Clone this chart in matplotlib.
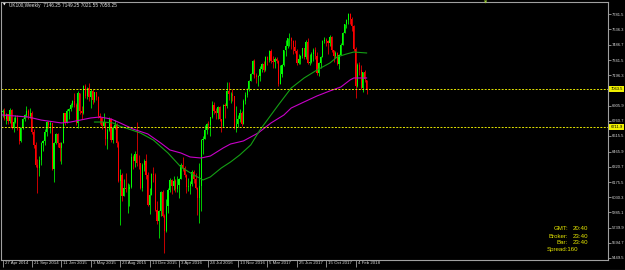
import matplotlib
matplotlib.use("Agg")
import matplotlib.pyplot as plt
import matplotlib.transforms as mtransforms
import numpy as np

plt.rcParams["font.family"] = ["Liberation Sans", "DejaVu Sans"]

# UK100 weekly bars, first bar = week of 1 Jun 2014, last = week of 18 Mar 2018
opens = [6845, 6858, 6777, 6825, 6757, 6866, 6690, 6749, 6791, 6679,
         6567, 6689, 6776, 6820, 6855, 6806, 6837, 6649, 6527, 6340,
         6310, 6388, 6546, 6567, 6654, 6750, 6723, 6742, 6300, 6545,
         6633, 6547, 6501, 6550, 6832, 6749, 6853, 6873, 6915, 6946,
         6912, 6740, 7022, 6855, 6833, 7090, 6995, 7070, 6986, 7047,
         6960, 7032, 6984, 6804, 6784, 6710, 6753, 6585, 6673, 6775,
         6579, 6696, 6718, 6550, 6188, 6247, 6042, 6117, 6105, 6109,
         6129, 6416, 6378, 6444, 6361, 6353, 6118, 6334, 6375, 6238,
         5952, 6052, 6254, 6242, 5912, 5804, 5900, 6083, 5848, 5707,
         5950, 6097, 6199, 6139, 6189, 6106, 6146, 6204, 6343, 6310,
         6241, 6125, 6138, 6156, 6270, 6209, 6115, 6021, 6138, 6577,
         6590, 6669, 6730, 6724, 6793, 6916, 6859, 6838, 6894, 6777,
         6710, 6910, 6899, 7044, 7014, 7020, 6996, 6693, 6730, 6775,
         6840, 6731, 6954, 7011, 7068, 7142, 7210, 7337, 7198, 7184,
         7188, 7258, 7299, 7243, 7374, 7343, 7425, 7336, 7323, 7349,
         7328, 7115, 7204, 7297, 7435, 7471, 7548, 7548, 7527, 7464,
         7424, 7313, 7350, 7378, 7453, 7368, 7511, 7310, 7324, 7401,
         7439, 7378, 7215, 7311, 7373, 7522, 7535, 7523, 7505, 7560,
         7433, 7380, 7409, 7300, 7394, 7490, 7603, 7687, 7724, 7778,
         7730, 7666, 7443, 7092, 7294, 7244, 7070, 7224, 7146]
highs = [6875, 6880, 6840, 6830, 6880, 6870, 6800, 6820, 6820, 6700,
         6700, 6790, 6830, 6904, 6870, 6880, 6850, 6680, 6560, 6400,
         6420, 6560, 6580, 6680, 6760, 6760, 6760, 6740, 6560, 6640,
         6640, 6560, 6560, 6840, 6840, 6870, 6880, 6930, 6960, 7030,
         6930, 7050, 7030, 6900, 7100, 7110, 7080, 7122, 7060, 7060,
         7040, 7040, 7000, 6840, 6800, 6840, 6740, 6690, 6800, 6790,
         6710, 6770, 6740, 6570, 6300, 6260, 6200, 6260, 6170, 6160,
         6450, 6430, 6470, 6750, 6430, 6350, 6360, 6400, 6440, 6270,
         6120, 6260, 6320, 6260, 5990, 5910, 6090, 6100, 5870, 6010,
         6120, 6210, 6200, 6230, 6200, 6230, 6210, 6360, 6410, 6330,
         6250, 6210, 6190, 6290, 6290, 6260, 6130, 6360, 6590, 6620,
         6720, 6740, 6760, 6800, 6950, 6940, 6880, 6900, 6900, 6780,
         6920, 6930, 7130, 7130, 7040, 7060, 7000, 6900, 6820, 6870,
         6850, 6970, 7040, 7070, 7150, 7220, 7340, 7350, 7220, 7200,
         7280, 7310, 7330, 7380, 7380, 7440, 7450, 7380, 7370, 7370,
         7340, 7290, 7300, 7440, 7530, 7550, 7600, 7560, 7530, 7530,
         7450, 7400, 7390, 7460, 7460, 7530, 7550, 7400, 7420, 7460,
         7470, 7420, 7320, 7380, 7530, 7560, 7550, 7530, 7580, 7570,
         7440, 7430, 7420, 7400, 7500, 7610, 7690, 7730, 7790, 7790,
         7750, 7680, 7470, 7310, 7320, 7290, 7230, 7250, 7149]
lows = [6800, 6770, 6730, 6730, 6740, 6680, 6650, 6740, 6670, 6540,
        6560, 6680, 6760, 6800, 6780, 6790, 6630, 6500, 6320, 6073,
        6230, 6340, 6470, 6530, 6620, 6690, 6640, 6290, 6180, 6540,
        6510, 6380, 6350, 6550, 6720, 6740, 6780, 6850, 6890, 6890,
        6720, 6690, 6830, 6780, 6830, 6980, 6970, 6950, 6880, 6920,
        6940, 6960, 6790, 6730, 6680, 6700, 6530, 6490, 6660, 6560,
        6550, 6680, 6510, 6180, 5768, 5990, 6040, 6080, 5880, 5950,
        6120, 6300, 6320, 6330, 6300, 6110, 6090, 6280, 6200, 5950,
        5871, 6050, 6180, 5900, 5770, 5639, 5850, 5840, 5499, 5700,
        5880, 6080, 6060, 6100, 6080, 6080, 6020, 6200, 6280, 6220,
        6070, 6090, 6060, 6140, 6170, 6110, 5860, 5780, 5900, 6440,
        6590, 6630, 6680, 6620, 6790, 6830, 6780, 6780, 6760, 6650,
        6700, 6790, 6880, 6960, 6930, 6950, 6680, 6650, 6700, 6750,
        6710, 6740, 6920, 6990, 7050, 7140, 7210, 7170, 7120, 7090,
        7140, 7230, 7230, 7240, 7290, 7320, 7310, 7270, 7270, 7310,
        7090, 7110, 7180, 7280, 7380, 7460, 7480, 7450, 7400, 7410,
        7290, 7300, 7300, 7360, 7350, 7350, 7300, 7290, 7310, 7330,
        7350, 7200, 7190, 7270, 7370, 7500, 7480, 7400, 7480, 7420,
        7320, 7360, 7290, 7260, 7400, 7490, 7600, 7650, 7690, 7690,
        7620, 7430, 6975, 7080, 7200, 7060, 7040, 7130, 7021]
closes = [6858, 6777, 6825, 6757, 6866, 6690, 6749, 6791, 6679, 6567,
          6689, 6776, 6820, 6855, 6806, 6837, 6649, 6527, 6340, 6310,
          6388, 6546, 6567, 6654, 6750, 6723, 6742, 6300, 6545, 6633,
          6547, 6501, 6550, 6832, 6749, 6853, 6873, 6915, 6946, 6912,
          6740, 7022, 6855, 6833, 7090, 6995, 7070, 6986, 7047, 6960,
          7032, 6984, 6804, 6784, 6710, 6753, 6585, 6673, 6775, 6579,
          6696, 6718, 6550, 6188, 6247, 6042, 6117, 6105, 6109, 6129,
          6416, 6378, 6444, 6361, 6353, 6118, 6334, 6375, 6238, 5952,
          6052, 6254, 6242, 5912, 5804, 5900, 6083, 5848, 5707, 5950,
          6097, 6199, 6139, 6189, 6106, 6146, 6204, 6343, 6310, 6241,
          6125, 6138, 6156, 6270, 6209, 6115, 6021, 6138, 6577, 6590,
          6669, 6730, 6724, 6793, 6916, 6859, 6838, 6894, 6777, 6710,
          6910, 6899, 7044, 7014, 7020, 6996, 6693, 6730, 6775, 6840,
          6731, 6954, 7011, 7068, 7142, 7210, 7337, 7198, 7184, 7188,
          7258, 7299, 7243, 7374, 7343, 7425, 7336, 7323, 7349, 7328,
          7115, 7204, 7297, 7435, 7471, 7548, 7548, 7527, 7464, 7424,
          7313, 7350, 7378, 7453, 7368, 7511, 7310, 7324, 7401, 7439,
          7378, 7215, 7311, 7373, 7522, 7535, 7523, 7505, 7560, 7433,
          7380, 7409, 7300, 7394, 7490, 7603, 7687, 7724, 7778, 7730,
          7666, 7443, 7092, 7294, 7244, 7070, 7224, 7164, 7058]

# moving averages (bar index, price)
ma100_idx = [0, 14, 21, 32, 37, 48, 53, 59, 64, 71, 79, 86, 91, 97, 102, 108,
             113, 120, 124, 131, 139, 146, 153, 157, 164, 171, 178, 184, 189, 191, 198]
ma100_val = [6816, 6797, 6768, 6740, 6749, 6788, 6797, 6778, 6740, 6682, 6635, 6549,
             6482, 6453, 6415, 6405, 6424, 6501, 6539, 6568, 6644, 6740, 6816, 6883,
             6941, 6998, 7046, 7084, 7151, 7170, 7170]
ma50_idx = [50, 55, 60, 64, 68, 75, 82, 90, 97, 104, 109, 113, 119, 124, 129, 135,
            140, 150, 157, 164, 171, 178, 182, 187, 191, 198]
ma50_val = [6749, 6749, 6740, 6707, 6686, 6644, 6577, 6453, 6319, 6243, 6195, 6224,
            6310, 6367, 6434, 6530, 6673, 6912, 7074, 7170, 7246, 7313, 7371, 7399,
            7418, 7409]

levels = [7061.5, 6702.0]
level_labels = ["7063.5", "6711.9"]

ytick_vals = [7781.5, 7636.3, 7486.7, 7341.5, 7196.3, 6905.9, 6760.7, 6615.5,
              6465.9, 6320.7, 6175.5, 6030.3, 5885.1, 5739.9, 5594.7, 5449.5]
xtick_idx = [0, 16, 32, 48, 64, 80, 96, 112, 128, 144, 160, 176, 192]
xtick_labels = ["27 Apr 2014", "21 Sep 2014", "11 Jan 2015", "3 May 2015", "23 Aug 2015",
                "13 Dec 2015", "3 Apr 2016", "24 Jul 2016", "13 Nov 2016", "5 Mar 2017",
                "25 Jun 2017", "15 Oct 2017", "4 Feb 2018"]

W, H = 625, 270
fig = plt.figure(figsize=(W / 100, H / 100), dpi=100, facecolor="black")
ax = fig.add_axes([0.5 / W, (H - 259.5) / H, 607 / W, 258 / H])
ax.set_facecolor("black")

o = np.array(opens)
h = np.array(highs)
l = np.array(lows)
c = np.array(closes)
x = np.arange(len(c))
cols = np.where(c >= o, "#00FF00", "#FF0000")

ax.vlines(x, np.minimum(l, np.minimum(o, c)), np.maximum(h, np.maximum(o, c)),
          colors=cols, linewidth=0.55)
ax.bar(x, np.maximum(np.abs(c - o), 5), bottom=np.minimum(o, c), width=0.6,
       color=cols, linewidth=0)

ax.plot(ma100_idx, ma100_val, color="#C800C8", lw=0.8)
ax.plot(ma50_idx, ma50_val, color="#14A014", lw=0.8)

for lvl in levels:
    ax.axhline(lvl, color="#E6E600", lw=0.7, ls=(0, (2, 1.5)))

ax.set_xlim(-1.1, 329)
ax.set_ylim(5435, 7901)

for s in ax.spines.values():
    s.set_color("#A0A0A0")
    s.set_linewidth(0.8)

ax.yaxis.tick_right()
ax.set_yticks(ytick_vals, labels=[f"{v:.1f}" for v in ytick_vals])
ax.tick_params(axis="y", length=2, width=0.6, color="#A0A0A0",
               labelcolor="#D8D8D8", labelsize=3.0, pad=0.8)

ax.set_xticks(xtick_idx, labels=xtick_labels)
ax.tick_params(axis="x", length=5, width=0.6, color="#A0A0A0",
               labelcolor="#D8D8D8", labelsize=3.2, pad=-3.6)
shift = mtransforms.ScaledTranslation(2 / 100, 0, fig.dpi_scale_trans)
for lab in ax.get_xticklabels():
    lab.set_horizontalalignment("left")
    lab.set_transform(lab.get_transform() + shift)

# highlighted price labels on the axis
blend = mtransforms.blended_transform_factory(ax.transAxes, ax.transData)
for lvl, txt in zip(levels, level_labels):
    ax.text(1.005, lvl, txt, transform=blend, ha="left", va="center", fontsize=3.0,
            color="black", clip_on=False,
            bbox=dict(boxstyle="square,pad=0.25", fc="#F0F000", ec="none"))

# header
fig.text(3 / W, 1 - 5 / H, "\u25bc", color="white", fontsize=2.5, va="center",
         family=["DejaVu Sans"])
fig.text(9 / W, 1 - 5 / H, "UK100,Weekly  7146.25 7149.25 7021.55 7058.25",
         color="#E0E0E0", fontsize=3.4, va="center")
fig.text(486 / W, 1 - 2.5 / H, "\u25bc", color="#9ACD32", fontsize=3, ha="center",
         va="center", family=["DejaVu Sans"])

# clock / spread box
info_rows = [("GMT:", "20:40"), ("Broker:", "23:40"), ("Bar:", "23:40")]
for i, (k, v) in enumerate(info_rows):
    yy = 1 - (229 + 7 * i) / H
    fig.text(568 / W, yy, k, color="#E6E600", fontsize=4.4, ha="right", va="center")
    fig.text(573 / W, yy, v, color="#E6E600", fontsize=4.4, ha="left", va="center")
fig.text(547 / W, 1 - 250 / H, "Spread:160", color="#E6E600", fontsize=4.4,
         ha="left", va="center")

fig.add_artist(plt.Line2D([0, 1], [0.5 / H, 0.5 / H], color="#A0A0A0", lw=0.8))

fig.savefig("out.png", dpi=100, facecolor="black")
